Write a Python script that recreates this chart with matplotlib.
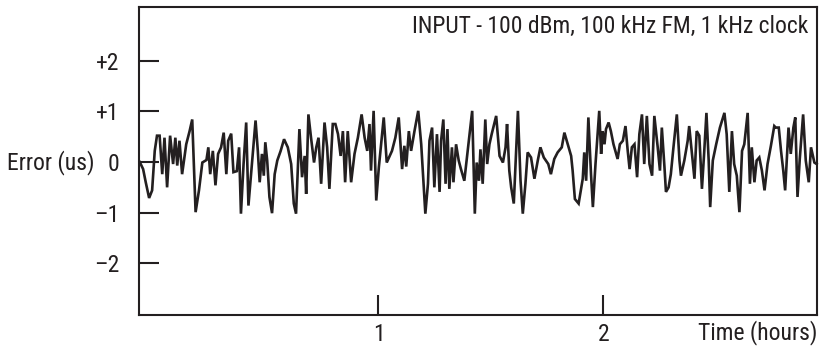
import matplotlib
matplotlib.use("Agg")
import matplotlib.pyplot as plt
from matplotlib import font_manager
from matplotlib.textpath import TextPath
import numpy as np

# time in minutes from start of record, error in microseconds
t_min = [
    -3.7, -2.8, -2.1, -1.2, -0.4, 0.3, 0.9, 1.6, 2.3, 2.9, 3.6, 4.4, 5.2, 5.8, 6.3, 6.9, 7.6, 8.7, 9.6, 10.3,
    11.2, 12.1, 13.0, 14.1, 14.6, 15.1, 15.8, 16.5, 17.2, 18.0, 18.7, 19.4, 19.9, 20.7, 21.3, 22.2, 22.8, 23.3,
    24.0, 24.7, 25.3, 26.3, 27.2,
    27.8, 28.3, 28.9, 29.4, 29.8, 30.3, 30.9, 31.6, 32.3, 33.0, 33.9, 34.8, 35.8, 36.7, 37.4, 38.0, 38.9, 39.6,
    40.3, 40.7, 41.3, 42.0, 42.8, 43.4, 44.0, 44.7, 45.6, 46.3, 46.9, 47.8, 48.5, 49.2, 49.9, 50.5, 51.1, 51.8,
    52.7, 53.6, 54.5, 55.5, 56.3, 57.0, 57.6,
    58.0, 58.7, 59.4, 60.1, 61.4, 62.2, 63.6, 64.5, 65.4, 66.3, 66.9, 67.4, 68.1, 68.7, 69.6, 70.6, 71.4, 72.0,
    72.5, 73.2, 73.6, 74.3, 74.9, 75.6, 76.3, 76.7, 77.3, 77.9, 78.4, 78.9, 79.6, 80.0, 80.7, 81.4, 82.0, 82.9,
    83.8, 85.0, 85.7, 86.2, 86.8, 87.2, 87.8, 88.5,
    89.0, 89.6, 90.2, 91.4, 92.3, 93.2, 93.9, 94.3, 94.9, 95.4, 96.1, 97.2, 97.9, 98.5, 99.2, 99.8, 100.7,
    101.6, 102.5, 103.2, 104.1, 105.3, 106.0, 106.9, 107.8, 108.9, 109.6, 110.5, 111.4, 111.8, 112.4, 113.4,
    114.5, 114.9, 115.4, 116.0, 116.7, 117.2, 117.9, 118.9,
    119.4, 119.8, 120.3, 120.7, 121.4, 122.0, 122.7, 123.8, 124.4, 125.2, 125.9, 126.5, 127.0, 127.6, 128.3,
    129.0, 129.6, 130.3, 130.9, 131.6, 132.3, 133.0, 133.6, 134.5, 135.1, 135.6, 136.3, 136.7, 137.4, 138.0,
    138.7, 139.6, 140.3, 140.7, 141.6, 142.5, 142.9, 143.6, 144.3, 144.9, 145.6, 146.3, 146.9, 147.5, 148.1,
    148.5,
    149.2, 150.1, 151.1, 152.3, 152.9, 153.6, 154.3, 154.9, 155.6, 156.3, 157.0, 157.6, 158.5, 159.1, 159.6,
    160.3, 160.9, 161.6, 162.3, 163.0, 163.8, 164.7, 165.6, 166.0, 166.8, 167.4, 168.0, 168.5, 169.4, 170.0,
    170.7, 171.2, 171.8, 172.4, 173.3, 174.0, 174.8, 175.4, 176.3, 176.9,
]
error_us = [
    0.0, -0.14, -0.40, -0.71, -0.56, 0.22, 0.52, 0.52, -0.24, 0.48, -0.50, 0.52, -0.04, 0.48, -0.07, 0.42, -0.24,
    0.35, 0.61, 0.84, -0.99, -0.56, -0.01, 0.04, 0.29, -0.24, 0.22, -0.46, 0.16, 0.29, 0.58, -0.24, 0.42, 0.56,
    -0.20, -0.18, 0.29, -1.02, -0.04, 0.78, -0.86, 0.03, 0.82,
    0.22, -0.40, 0.16, -0.27, 0.39, 0.03, -0.69, -1.01, -0.24, 0.03, 0.22, 0.45, 0.29, -0.04, -0.82, -1.02, 0.65,
    -0.30, 0.12, -0.63, 0.94, 0.48, -0.01, 0.29, 0.48, -0.43, 0.78, 0.29, -0.53, 0.75, 0.75, 0.55, 0.12, 0.61,
    -0.40, 0.61, -0.40, 0.16, 0.48, 0.94, 0.48, 0.22, 0.75,
    -0.17, 1.01, -0.76, -0.10, 0.88, -0.01, 0.22, 0.48, 0.88, -0.14, 0.32, -0.09, 0.61, 0.22, 0.61, 1.01, 0.35,
    -0.40, -1.02, -0.43, 0.42, 0.68, -0.50, 0.55, -0.59, 0.42, 0.84, -0.43, 0.65, -0.53, 0.29, -0.40, 0.35,
    0.03, -0.14, -0.37, 0.22, 1.01, -1.02, -0.01, -0.37, 0.25, -0.43, 0.84,
    -0.04, 0.35, 0.55, 0.91, 0.12, -0.01, 0.29, 0.75, -0.17, -0.50, -0.82, 1.01, -0.37, -1.02, -0.43, 0.19,
    0.09, -0.33, 0.03, 0.29, 0.09, -0.04, -0.24, 0.06, 0.19, 0.29, 0.58, 0.35, 0.12, -0.17, -0.73, -0.82,
    -0.33, 0.19, -0.37, 0.88, -0.24, -0.89, -0.04, 1.01,
    0.16, 0.61, 0.35, 0.65, 0.78, 0.61, 0.35, 0.06, 0.35, 0.42, 0.71, 0.22, -0.14, 0.29, 0.35, -0.30, 0.55,
    0.94, -0.04, 0.91, -0.04, -0.27, 0.91, 0.29, -0.17, 0.68, -0.10, -0.59, -0.50, -0.24, 0.29, 0.94, 0.03,
    -0.27, 0.03, 0.42, 0.71, 0.19, -0.33, 0.61, 0.52, -0.53, 0.19, 0.97, 0.03, -0.89,
    0.03, 0.35, 0.68, 0.97, 0.55, -0.59, 0.61, -0.04, -0.27, -0.99, 0.22, 0.35, 0.97, -0.43, 0.29, -0.40,
    0.03, 0.09, -0.17, -0.56, -0.04, 0.32, 0.71, 0.68, 0.68, 0.22, -0.17, -0.56, 0.68, 0.16, 0.68, 0.88,
    -0.69, 0.06, 0.94, 0.03, -0.40, 0.29, -0.01, -0.04,
]
y_ticks = [-2, -1, 0, 1, 2]
y_tick_labels = ["\u20132", "\u20131", "0", "+1", "+2"]
x_ticks_hours = [1, 2]
x_tick_labels = ["1", "2"]
annotation = "INPUT - 100 dBm, 100 kHz FM, 1 kHz clock"

# ---- choose the narrowest available sans font ----
entries = font_manager.fontManager.ttflist
names = {f.name for f in entries}
family, stretch = None, 'normal'
for cand in ['Liberation Sans Narrow', 'Roboto Condensed', 'Open Sans Condensed',
             'Noto Sans Condensed', 'DejaVu Sans Condensed', 'Arial Narrow']:
    if cand in names:
        family = cand
        break
if family is None:
    for f in entries:
        if f.name in ('DejaVu Sans', 'Noto Sans', 'Roboto', 'Open Sans') and \
                str(f.stretch) in ('condensed', 'semi-condensed', '75', '87', '62'):
            family, stretch = f.name, f.stretch
            break
if family is None:
    family = 'Liberation Sans'
plt.rcParams['font.family'] = [family, 'DejaVu Sans']
plt.rcParams['font.stretch'] = stretch

# font size: fit the annotation width seen in the reference (~396 px)
fp = font_manager.FontProperties(family=[family, 'DejaVu Sans'], stretch=stretch, size=100)
w100 = TextPath((0, 0), annotation, size=100, prop=fp).get_extents().width
fs = min(17.5, 100.0 * (396 * 72 / 100) / w100)

ink = "#231f20"
W, H = 821, 350
fig = plt.figure(figsize=(W / 100, H / 100), dpi=100)
ax = fig.add_axes([139 / W, 1 - 315 / H, (817 - 139) / W, (315 - 7) / H])

t_hours = np.array(t_min) / 60.0
ax.plot(t_hours, error_us, color=ink, lw=1.9, solid_joinstyle='miter', clip_on=False)

ax.set_xlim(-3.9 / 60, 177.0 / 60)
ax.set_ylim(-3.02, 3.06)

for s in ax.spines.values():
    s.set_linewidth(1.5)
    s.set_color(ink)

ax.set_yticks(y_ticks)
ax.set_yticklabels(y_tick_labels)
ax.set_xticks(x_ticks_hours)
ax.set_xticklabels(x_tick_labels)
ax.tick_params(axis='both', direction='in', length=14.5, width=1.5, color=ink,
               labelsize=fs, labelcolor=ink)
ax.tick_params(axis='y', pad=14)
ax.tick_params(axis='x', pad=6)

fig.text(7 / W, 1 - 163 / H, "Error (us)", ha='left', va='center', fontsize=fs, color=ink)
fig.text(817 / W, 1 - 333 / H, "Time (hours)", ha='right', va='center', fontsize=fs, color=ink)
fig.text(808 / W, 1 - 26 / H, annotation, ha='right', va='center', fontsize=fs, color=ink)

fig.savefig("out.png", dpi=100)
